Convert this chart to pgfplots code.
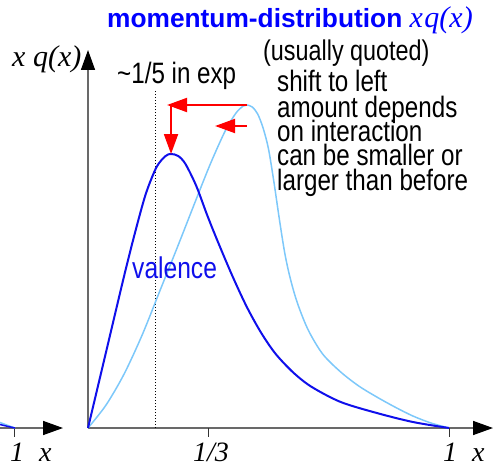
\documentclass[border=0pt]{standalone}
\usepackage{pgfplots}
\pgfplotsset{compat=1.18}
\usetikzlibrary{arrows.meta}
\usepackage{fontspec}
\setmainfont{Liberation Sans}
\newfontfamily\narrow[FakeStretch=0.82]{Liberation Sans}
\newfontfamily\tms{Liberation Serif}

\definecolor{valblue}{RGB}{15,15,235}
\definecolor{skyline}{RGB}{125,200,250}
\definecolor{axisgray}{RGB}{105,105,105}

\tikzset{
  axisarrow/.style={line width=1.5pt, draw=axisgray,
    -{Triangle[length=20pt,width=14pt,color=black]}},
  shiftarrow/.style={line width=2pt, draw=red,
    -{Triangle[length=20pt,width=14pt]}},
}

\begin{document}
\begin{tikzpicture}
% main panel: x in units of the momentum fraction, y in arbitrary units
\begin{axis}[
  hide axis, clip=false,
  x=361pt, y=1pt,
  xmin=-0.24377, xmax=1.12742,
  ymin=-39, ymax=428,
]
  % axes with arrow heads
  \draw[axisarrow] (axis cs:0,0) -- (axis cs:1.1219,0);
  \draw[axisarrow] (axis cs:0,0) -- (axis cs:0,378);
  % ticks at 1/3 and 1
  \draw[line width=1pt, black!80] (axis cs:0.33333,0) -- (axis cs:0.33333,-9);
  \draw[line width=1pt, black!80] (axis cs:1,0) -- (axis cs:1,-9);
  % position of the peak in the exponent
  \draw[line width=1pt, dash pattern=on 1pt off 2pt] (axis cs:0.1856,0) -- (axis cs:0.1856,338);

  % distribution before the shift
  \addplot[skyline, line width=1.5pt, smooth] coordinates {
    (0,0) (0.05,23) (0.10,54) (0.15,93) (0.20,138) (0.25,183)
    (0.30,229) (0.34,265) (0.38,297) (0.41,315) (0.43,322) (0.44,323)
    (0.455,321) (0.47,314) (0.485,300) (0.50,279) (0.515,246)
    (0.53,209) (0.545,175) (0.56,150) (0.58,125) (0.61,98) (0.65,74)
    (0.70,56) (0.75,42) (0.80,31) (0.85,21) (0.90,12) (0.95,5) (1,0)
  };
  % valence distribution
  \addplot[valblue, line width=2pt, smooth] coordinates {
    (0,0) (0.05,76) (0.10,152) (0.13,195) (0.16,234) (0.19,261)
    (0.215,272) (0.23,274) (0.25,272) (0.27,264) (0.30,242) (0.33,213)
    (0.36,186) (0.40,152) (0.44,121) (0.48,95) (0.52,74) (0.57,55)
    (0.62,41) (0.70,26) (0.80,15) (0.90,6) (1,0)
  };

  % shift of the peak
  \draw[shiftarrow] (axis cs:0.440,323) -- (axis cs:0.219,323);
  \draw[shiftarrow] (axis cs:0.230,322) -- (axis cs:0.230,274);
  \draw[shiftarrow] (axis cs:0.440,302) -- (axis cs:0.352,302);
\end{axis}

% tail of the neighbouring panel
\begin{axis}[
  hide axis, clip=false,
  x=361pt, y=1pt,
  xmin=0.95845, xmax=2.32964,
  ymin=-39, ymax=428,
]
  \draw[axisarrow] (axis cs:0.95845,0) -- (axis cs:1.1330,0);
  \draw[line width=1pt, black!80] (axis cs:1,0) -- (axis cs:1,-9);
  \addplot[skyline, line width=1.5pt, smooth] coordinates {
    (0.95845,5.5) (0.98,2.6) (1,0)
  };
  \addplot[valblue, line width=1.5pt, smooth] coordinates {
    (0.95845,3.5) (0.98,1.6) (1,0)
  };
\end{axis}

% title and annotations
\node[anchor=base west, inner sep=0pt, text=blue] at (107pt,439pt)
  {\fontsize{26.3}{26.3}\selectfont\bfseries momentum-distribution\ {\tms\mdseries\itshape\fontsize{30}{30}\selectfont x\kern1.5pt q(x)}};
\node[anchor=base west, inner sep=0pt] at (263pt,406pt)
  {\narrow\fontsize{28.5}{28.5}\selectfont (usually quoted)};
\node[anchor=base west, inner sep=0pt] at (117pt,383pt)
  {\narrow\fontsize{29.5}{29.5}\selectfont \textasciitilde 1/5 in exp};
\node[anchor=base west, inner sep=0pt] at (12pt,400pt)
  {\tms\itshape\fontsize{30}{30}\selectfont x q(x)};
\node[anchor=base west, inner sep=0pt] at (277pt,375pt)
  {\narrow\fontsize{29.5}{29.5}\selectfont shift to left};
\node[anchor=base west, inner sep=0pt] at (277pt,350pt)
  {\narrow\fontsize{29.5}{29.5}\selectfont amount depends};
\node[anchor=base west, inner sep=0pt] at (277pt,326pt)
  {\narrow\fontsize{29.5}{29.5}\selectfont on interaction};
\node[anchor=base west, inner sep=0pt] at (277pt,302pt)
  {\narrow\fontsize{29.5}{29.5}\selectfont can be smaller or};
\node[anchor=base west, inner sep=0pt] at (277pt,277pt)
  {\narrow\fontsize{29.5}{29.5}\selectfont larger than before};
\node[anchor=base west, inner sep=0pt, text=valblue] at (132pt,189pt)
  {\narrow\fontsize{30}{30}\selectfont valence};
% tick labels
\node[anchor=base west, inner sep=0pt] at (193pt,6pt)
  {\tms\itshape\fontsize{28}{28}\selectfont 1/3};
\node[anchor=base west, inner sep=0pt] at (443pt,6pt)
  {\tms\itshape\fontsize{28}{28}\selectfont 1};
\node[anchor=base west, inner sep=0pt] at (472pt,6pt)
  {\tms\itshape\fontsize{28}{28}\selectfont x};
\node[anchor=base west, inner sep=0pt] at (10pt,6pt)
  {\tms\itshape\fontsize{28}{28}\selectfont 1};
\node[anchor=base west, inner sep=0pt] at (39pt,6pt)
  {\tms\itshape\fontsize{28}{28}\selectfont x};

\pgfresetboundingbox
\path[use as bounding box] (0,0) rectangle (495pt,467pt);
\end{tikzpicture}
\end{document}
